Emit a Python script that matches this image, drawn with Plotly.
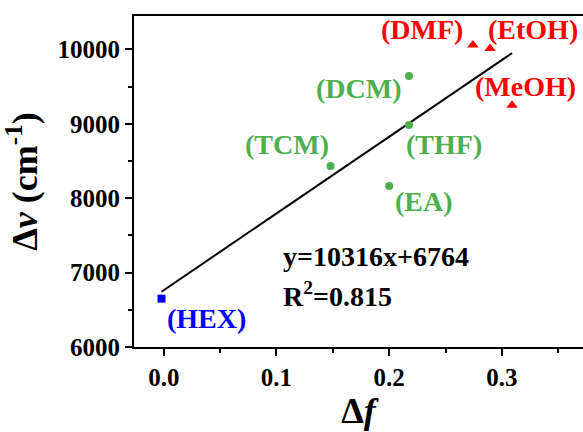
import plotly.graph_objects as go

# Data
solvents = ["HEX", "TCM", "EA", "THF", "DCM", "DMF", "EtOH", "MeOH"]
delta_f = [-0.002, 0.148, 0.200, 0.2176, 0.2176, 0.2743, 0.2895, 0.309]
delta_nu = [6650, 8434, 8163, 8986, 9643, 10059, 10014, 9249]
groups = ["blue", "green", "green", "green", "green", "red", "red", "red"]

# label positions (data coordinates)
label_x = [0.038, 0.109, 0.231, 0.249, 0.173, 0.229, 0.328, 0.321]
label_y = [6385, 8729, 7959, 8729, 9475, 10262, 10262, 9498]

slope = 10316
intercept = 6764
r2 = 0.815

x_ticks = [0.0, 0.1, 0.2, 0.3]
y_ticks = [6000, 7000, 8000, 9000, 10000]

colors = {"blue": "#0000FF", "green": "#4CAF50", "red": "#FF0000"}
symbols = {"blue": "square", "green": "circle", "red": "triangle-up"}
sizes = {"blue": 8, "green": 8, "red": 10}

FONT = "Liberation Serif"

fig = go.Figure()

# fit line
fx = [min(delta_f), max(delta_f)]
fy = [slope * v + intercept for v in fx]
fig.add_trace(go.Scatter(x=fx, y=fy, mode="lines",
                         line=dict(color="black", width=2), showlegend=False))

for g in ["blue", "green", "red"]:
    xs = [x for x, gg in zip(delta_f, groups) if gg == g]
    ys = [y for y, gg in zip(delta_nu, groups) if gg == g]
    fig.add_trace(go.Scatter(x=xs, y=ys, mode="markers",
                             marker=dict(color=colors[g], symbol=symbols[g], size=sizes[g]),
                             showlegend=False))

for s, lx, ly, g in zip(solvents, label_x, label_y, groups):
    fig.add_annotation(x=lx, y=ly, text=f"<b>({s})</b>", showarrow=False,
                       font=dict(family=FONT, size=28, color=colors[g]),
                       xanchor="center", yanchor="middle")

fig.add_annotation(x=0.104, y=7222, text=f"<b>y={slope}x+{intercept}</b>", showarrow=False,
                   font=dict(family=FONT, size=28, color="black"),
                   xanchor="left", yanchor="middle")
fig.add_annotation(x=0.104, y=6701, text=f"<b>R<sup>2</sup>={r2}</b>", showarrow=False,
                   font=dict(family=FONT, size=28, color="black"),
                   xanchor="left", yanchor="middle")

fig.update_layout(
    width=583, height=432,
    margin=dict(l=134, r=0, t=16, b=85),
    plot_bgcolor="white", paper_bgcolor="white",
    font=dict(family=FONT, color="black"),
    xaxis=dict(range=[-0.0264, 0.372], tickvals=x_ticks,
               ticktext=[f"<b>{v:.1f}</b>" for v in x_ticks],
               showline=True, linecolor="black", linewidth=2, mirror=True,
               ticks="outside", ticklen=7, tickwidth=2, tickcolor="black",
               minor=dict(dtick=0.05, tick0=0.0, ticks="outside", ticklen=4, tickwidth=2, tickcolor="black"),
               showgrid=False, zeroline=False,
               tickfont=dict(family=FONT, size=25, color="black"),
               title=dict(text="<b>Δ<i>f</i></b>", font=dict(family=FONT, size=36, color="black"), standoff=4)),
    yaxis=dict(range=[6000, 10450], tickvals=y_ticks,
               ticktext=[f"<b>{v}</b>" for v in y_ticks],
               showline=True, linecolor="black", linewidth=2, mirror=False,
               ticks="outside", ticklen=7, tickwidth=2, tickcolor="black",
               minor=dict(dtick=500, tick0=6000, ticks="outside", ticklen=4, tickwidth=2, tickcolor="black"),
               showgrid=False, zeroline=False,
               tickfont=dict(family=FONT, size=25, color="black"),
               title=dict(text="<b>Δ<i>ν</i> (cm<sup>-1</sup>)</b>", font=dict(family=FONT, size=36, color="black"), standoff=10)),
)

fig.write_html("out.html")
